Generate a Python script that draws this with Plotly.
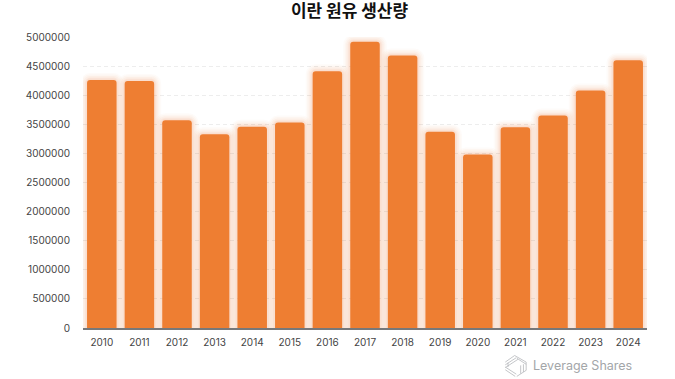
import plotly.graph_objects as go

years = [str(y) for y in range(2010, 2025)]
production = [4260000, 4245000, 3570000, 3330000, 3460000, 3530000, 4410000, 4920000,
              4680000, 3370000, 2980000, 3450000, 3650000, 4080000, 4600000]
y_ticks = list(range(0, 5000001, 500000))
title_text = "이란 원유 생산량"
brand = "Leverage Shares"

W, H = 675, 379
L, R, T, B = 82.7, 646.8, 36.5, 328

fig = go.Figure()
ORANGE = "#EE7E32"
for lw, alpha in [(14, .03), (11, .04), (8, .05), (5, .06), (3, .07)]:
    fig.add_trace(go.Bar(x=years, y=production, width=0.785,
                         marker=dict(color="rgba(0,0,0,0)", cornerradius=3,
                                     line=dict(color=f"rgba(239,126,50,{alpha})", width=lw)),
                         hoverinfo="skip", showlegend=False))
fig.add_trace(go.Bar(x=years, y=production, width=0.785,
                     marker=dict(color=ORANGE, cornerradius=3, line=dict(width=0)),
                     showlegend=False))

# logo: stylised interlaced hexagon strokes
cx, cy, s = 515.5, 366, 11
logo = []
for k, (a, b) in enumerate([((-.95, -.35), (-.1, -.95)), ((-.95, -.1), (.05, -.75)), ((-.95, .15), (.2, -.6)),
                            ((-.1, -.95), (.95, -.35)), ((.1, -.7), (.95, -.15)),
                            ((.95, -.35), (.95, .4)), ((.7, -.15), (.7, .55)), ((.45, -.05), (.45, .7)),
                            ((.95, .4), (.1, .95)), ((-.95, .35), (-.05, .95)), ((-.95, .1), (.05, .75)), ((-.7, -.3), (-.7, .1))]):
    logo.append(dict(type="line", xref="paper", yref="paper",
                     x0=(cx + a[0] * s - L) / (R - L), x1=(cx + b[0] * s - L) / (R - L),
                     y0=(B - cy - a[1] * s) / (B - T), y1=(B - cy - b[1] * s) / (B - T),
                     line=dict(color="#B5B8BB", width=0.8)))

fig.update_layout(
    width=W, height=H, autosize=False,
    margin=dict(l=L, r=W - R, t=T, b=H - B),
    paper_bgcolor="white", plot_bgcolor="white",
    barmode="overlay", bargap=0.215,
    title=dict(text=f"<b>{title_text}</b>", x=349.5 / W, xanchor="center", y=1 - 11 / H, yanchor="middle",
               font=dict(family="Noto Sans CJK KR", size=17, color="#111111")),
    xaxis=dict(type="category", tickfont=dict(family="Inter", size=10, color="#444444"),
               ticks="", showgrid=False, showline=True, linecolor="#77787A", linewidth=1.5,
               ticklabelstandoff=4),
    yaxis=dict(range=[0, 5000000], tickvals=y_ticks, ticktext=[str(v) for v in y_ticks],
               tickfont=dict(family="Inter", size=10, color="#444444"),
               ticks="", showline=False, zeroline=False, ticklabelstandoff=12,
               gridcolor="#EDEDED", griddash="4px,3px", gridwidth=1),
    shapes=logo,
    annotations=[dict(text=brand, xref="paper", yref="paper", showarrow=False,
                      x=(531 - L) / (R - L), y=(B - 366) / (B - T), xanchor="left", yanchor="middle",
                      font=dict(family="Inter", size=12.5, color="#A3A6A9"))],
)
fig.write_html("out.html", config={"displayModeBar": False},
               post_script="document.body.style.margin='0';document.body.style.overflow='hidden';")
